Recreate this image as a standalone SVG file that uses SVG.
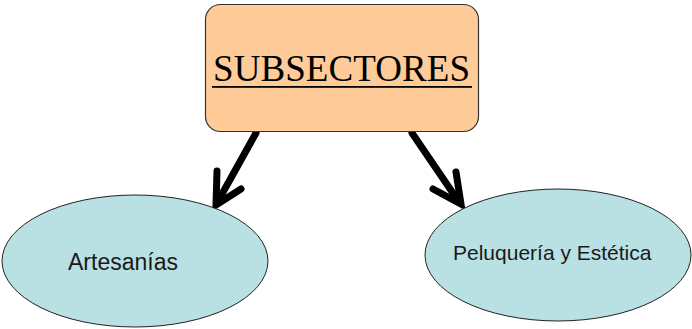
<svg xmlns="http://www.w3.org/2000/svg" width="692" height="329" viewBox="0 0 692 329">
<style>
.node-box{fill:#FFCC99;stroke:#333;stroke-width:1.2}
.node-ell{fill:#B9E0E3;stroke:#222;stroke-width:1}
.title{font-family:"Liberation Serif",serif;font-size:37px;fill:#000}
.lbl{font-family:"Liberation Sans",Arial,sans-serif;fill:#1a1a1a}
.conn{fill:none;stroke:#000;stroke-width:7;stroke-linecap:round;stroke-linejoin:miter}
</style>
<rect width="692" height="329" fill="#fff"/>
<g id="connectors">
<path class="conn" d="M256,133 L217,203"/>
<path class="conn" d="M217,171 L216,205 L241,189"/>
<path class="conn" d="M412,133 L459,202"/>
<path class="conn" d="M456,172 L461,204 L433,189"/>
</g>
<g id="subsectores">
<rect class="node-box" x="205.5" y="4.5" width="273" height="127" rx="15" ry="15"/>
<text class="title" x="213" y="81" textLength="257">SUBSECTORES</text>
<rect x="212" y="86" width="260" height="1.8" fill="#000"/>
</g>
<g id="artesanias">
<ellipse class="node-ell" cx="135" cy="261" rx="133" ry="66"/>
<text class="lbl" x="68" y="270" font-size="23">Artesanías</text>
</g>
<g id="peluqueria">
<ellipse class="node-ell" cx="558" cy="255" rx="133" ry="66"/>
<text class="lbl" x="453" y="260" font-size="21">Peluquería y Estética</text>
</g>
</svg>
